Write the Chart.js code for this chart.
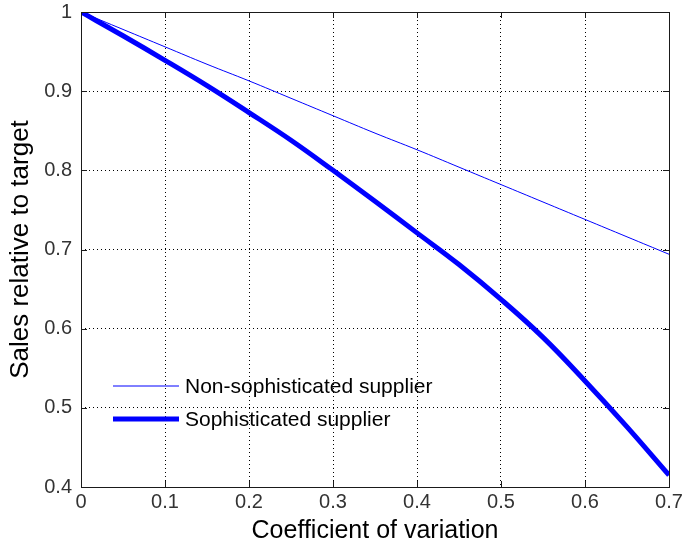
<!DOCTYPE html>
<html>
<head>
<meta charset="utf-8">
<script src="https://cdn.jsdelivr.net/npm/chart.js@4/dist/chart.umd.min.js"></script>
<style>
  html, body { margin: 0; padding: 0; background: #fff; }
  #wrap { width: 682px; height: 552px; position: relative; }
</style>
</head>
<body>
<div id="wrap"><canvas id="chart"></canvas></div>
<script>
// --- dati ---
const cvValues = [0, 0.05, 0.1, 0.15, 0.2, 0.25, 0.3, 0.35, 0.4, 0.45, 0.5, 0.55, 0.6, 0.65, 0.7];
const nonSophisticated = [1, 0.978, 0.956, 0.934, 0.913, 0.891, 0.869, 0.847, 0.826, 0.804, 0.782, 0.760, 0.738, 0.716, 0.694];
const sophisticated = [1, 0.970, 0.939, 0.907, 0.873, 0.838, 0.800, 0.761, 0.721, 0.681, 0.637, 0.589, 0.534, 0.476, 0.415];
const seriesLabels = ['Non-sophisticated supplier', 'Sophisticated supplier'];
const xTitle = 'Coefficient of variation';
const yTitle = 'Sales relative to target';

const FONT = 'Liberation Sans, Arial, sans-serif';
const BLUE = '#0000ff';
const AXIS = '#1a1a1a';

const toPoints = ys => cvValues.map((x, i) => ({ x: x, y: ys[i] }));
const fmt = v => String(+(+v).toFixed(1));

// box + tacche interne stile MATLAB, e legenda dentro l'area
const matlabAxes = {
    id: 'matlabAxes',
    afterDraw(chart) {
        const { ctx, chartArea: a, scales } = chart;
        ctx.save();
        ctx.strokeStyle = AXIS;
        ctx.lineWidth = 1;
        ctx.setLineDash([]);
        ctx.strokeRect(Math.round(a.left) + 0.5, Math.round(a.top) + 0.5,
            Math.round(a.right - a.left), Math.round(a.bottom - a.top));
        const len = 6;
        ctx.beginPath();
        scales.x.ticks.forEach(t => {
            const px = Math.round(scales.x.getPixelForValue(t.value)) + 0.5;
            ctx.moveTo(px, a.bottom); ctx.lineTo(px, a.bottom - len);
            ctx.moveTo(px, a.top); ctx.lineTo(px, a.top + len);
        });
        scales.y.ticks.forEach(t => {
            const py = Math.round(scales.y.getPixelForValue(t.value)) + 0.5;
            ctx.moveTo(a.left, py); ctx.lineTo(a.left + len, py);
            ctx.moveTo(a.right, py); ctx.lineTo(a.right - len, py);
        });
        ctx.stroke();

        // legenda
        const lx = a.left + 32, lw = 66, ty = [386, 419];
        ctx.font = '21px ' + FONT;
        ctx.textBaseline = 'middle';
        ctx.fillStyle = '#000';
        chart.data.datasets.forEach((ds, i) => {
            ctx.strokeStyle = ds.borderColor;
            ctx.lineWidth = ds.borderWidth;
            ctx.beginPath();
            ctx.moveTo(lx, ty[i]); ctx.lineTo(lx + lw, ty[i]);
            ctx.stroke();
            ctx.fillText(ds.label, lx + lw + 6, ty[i] + 1);
        });
        ctx.restore();
    }
};

new Chart(document.getElementById('chart'), {
    type: 'line',
    data: {
        datasets: [
            { label: seriesLabels[0], data: toPoints(nonSophisticated), borderColor: BLUE, borderWidth: 1, pointRadius: 0, tension: 0.4 },
            { label: seriesLabels[1], data: toPoints(sophisticated), borderColor: BLUE, borderWidth: 5, pointRadius: 0, tension: 0.4 }
        ]
    },
    options: {
        responsive: true, maintainAspectRatio: false, animation: false,
        layout: { padding: { left: 0, top: 12, right: 13, bottom: 0 } },
        plugins: { legend: { display: false }, tooltip: { enabled: false } },
        scales: {
            x: {
                type: 'linear', min: 0, max: 0.7,
                afterFit: s => { s.height = 65; s.paddingLeft = 0; s.paddingRight = 0; },
                ticks: { stepSize: 0.1, color: '#333', padding: 3, font: { family: FONT, size: 20 }, callback: v => fmt(v), maxRotation: 0 },
                grid: { color: '#000', lineWidth: 1, drawTicks: false },
                border: { display: false, dash: [1, 3] },
                title: { display: true, text: xTitle, color: '#000', font: { family: FONT, size: 25 }, padding: { top: 0, bottom: 6 } }
            },
            y: {
                type: 'linear', min: 0.4, max: 1,
                afterFit: s => { s.width = 81; s.paddingTop = 0; s.paddingBottom = 0; },
                ticks: { stepSize: 0.1, color: '#333', padding: 9, font: { family: FONT, size: 20 }, callback: v => fmt(v) },
                grid: { color: '#000', lineWidth: 1, drawTicks: false },
                border: { display: false, dash: [1, 3] },
                title: { display: true, text: yTitle, color: '#000', font: { family: FONT, size: 26 }, padding: { top: 5, bottom: 0 } }
            }
        }
    },
    plugins: [matlabAxes]
});
</script>
</body>
</html>
